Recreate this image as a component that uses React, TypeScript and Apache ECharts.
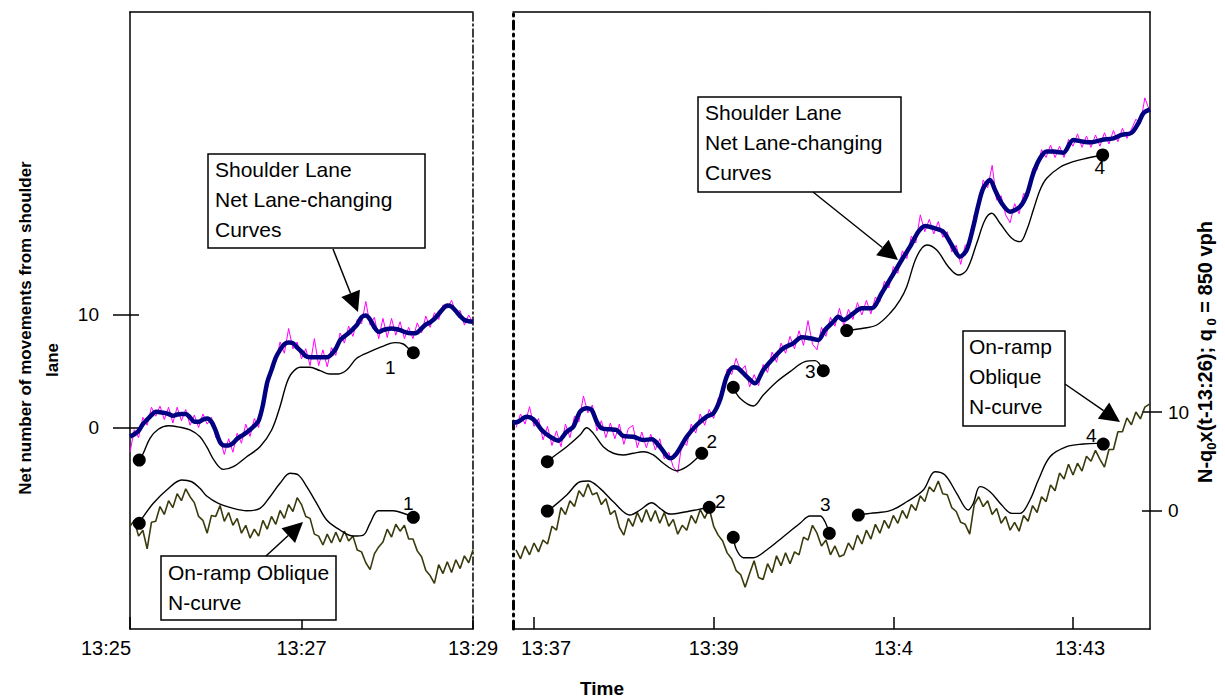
import React, { useEffect, useRef } from "react";
import * as echarts from "echarts";

const FONT = "'Liberation Sans', Arial, Helvetica, sans-serif";

// ---- axis ticks ----
const LEFT_TICKS = [25, 27, 29];
const LEFT_TICK_LABELS = ["13:25", "13:27", "13:29"];
const RIGHT_TICKS = [37, 39, 41, 43];
const RIGHT_TICK_LABELS = ["13:37", "13:39", "13:4", "13:43"];
const Y_TICKS = [0, 10];

// ---- axis ranges (minutes after 13:00 / counts) ----
const LEFT_RANGE = [25, 29];
const RIGHT_RANGE = [36.766, 43.857];
const SHOULDER_RANGE = [-17.91, 36.93];
const ONRAMP_RANGE = [-12.03, 50.61];

// ---- sampled series (one value every 0.05 min) ----
const SAMPLE_STEP = 0.05;
const LEFT_START = 25.0;
const RIGHT_START = 36.8;

const shoulderRawLeft = [
  -2.2, -0.2, -0.9, 0.9, 0.2, 1.8, 1.0, 1.9, 0.7, 1.8,
  0.4, 1.8, 0.6, 1.6, 0.2, 1.1, 0.0, 1.2, 0.3, 0.9,
  -0.9, -1.0, -2.4, -1.0, -2.2, -0.5, -1.4, 0.3, -0.8, 0.8,
  0.0, 2.6, 3.3, 5.6, 5.8, 7.6, 6.6, 8.8, 7.0, 7.6,
  6.1, 7.0, 5.5, 7.9, 5.5, 6.9, 5.4, 7.1, 6.4, 8.4,
  7.5, 9.0, 8.1, 9.6, 9.2, 11.2, 9.1, 9.8, 7.9, 9.7,
  8.0, 9.7, 8.2, 9.4, 7.9, 8.9, 7.9, 9.3, 8.4, 9.9,
  8.9, 10.2, 9.6, 10.9, 10.6, 11.3, 10.2, 10.4, 9.1, 10.0,
  9.3,
];

const shoulderSmoothLeft = [
  -0.8, -0.6, -0.3, 0.3, 0.7, 1.1, 1.4, 1.35, 1.3, 1.2,
  1.05, 1.15, 1.2, 1.2, 0.9, 0.5, 0.5, 0.7, 0.8, 0.5,
  -0.3, -1.3, -1.6, -1.6, -1.4, -1.0, -0.75, -0.5, -0.2, 0.15,
  0.6, 2.0, 4.0, 5.1, 6.2, 6.9, 7.4, 7.55, 7.5, 7.1,
  6.75, 6.35, 6.25, 6.24, 6.24, 6.24, 6.24, 6.5, 7.0, 7.75,
  8.1, 8.4, 8.75, 9.15, 9.8, 9.95, 9.6, 8.9, 8.5, 8.65,
  8.75, 8.8, 8.75, 8.65, 8.5, 8.4, 8.37, 8.45, 8.8, 9.15,
  9.35, 9.65, 10.1, 10.55, 10.85, 10.75, 10.35, 9.9, 9.55, 9.45,
  9.4,
];

const onrampLeft = [
  -1.6, -1.0, -2.6, -2.0, -3.9, -1.2, -1.1, 0.4, -0.4, 1.0,
  0.3, 1.7, 1.0, 2.2, 1.4, 0.8, -0.6, -1.0, -2.3, -0.5,
  -0.6, 0.5, -1.1, -0.2, -1.5, -0.8, -2.3, -1.5, -2.8, -1.9,
  -2.6, -1.0, -1.9, -0.6, -1.4, 0.0, -0.8, 0.6, -0.1, 1.3,
  0.6, -0.6, -0.8, -2.4, -2.6, -3.5, -2.4, -3.3, -2.2, -3.2,
  -2.1, -3.1, -2.6, -4.0, -4.2, -5.3, -6.0, -4.4, -3.7, -3.2,
  -1.9, -2.7, -1.4, -2.1, -1.5, -2.9, -2.9, -4.1, -4.7, -6.1,
  -6.6, -7.4, -5.5, -6.4, -5.2, -6.3, -5.0, -5.9, -4.6, -5.3,
  -4.0,
];

const shoulderRawRight = [
  0.0, 1.2, 0.3, 1.85, 0.1, 0.8, -1.1, 0.1, -1.6, -0.3,
  -1.7, 0.3, -0.9, 1.0, 0.5, 2.8, 1.3, 2.0, -0.3, 0.6,
  -0.9, 0.4, -1.0, 0.3, -1.5, -0.1, 0.2, -1.8, -0.4, -1.8,
  -0.6, -2.0, -1.0, -2.8, -2.2, -3.5, -4.0, -1.2, -1.6, 0.3,
  -0.5, 1.2, 0.2, 1.6, 0.8, 2.6, 3.0, 5.2, 4.7, 6.15,
  5.0, 5.5, 3.6, 4.7, 3.7, 5.6, 4.9, 6.7, 5.8, 7.5,
  6.6, 8.1, 7.0, 8.6, 7.3, 9.5, 7.4, 6.9, 8.9, 8.1,
  9.8, 9.0, 10.6, 9.0, 10.5, 9.6, 11.1, 10.0, 11.3, 10.1,
  11.6, 11.2, 13.0, 12.4, 14.3, 13.7, 15.7, 15.0, 17.0, 16.4,
  18.9, 17.4, 18.5, 17.2, 18.3, 16.9, 17.4, 15.6, 16.2, 14.5,
  16.2, 16.2, 18.9, 19.5, 22.0, 21.3, 23.3, 20.2, 20.6, 18.9,
  18.2, 19.9, 19.0, 20.8, 20.6, 23.0, 22.9, 24.7, 24.0, 25.1,
  24.0, 25.0, 24.0, 25.6, 25.0, 26.1, 24.9, 25.9, 24.9, 26.0,
  25.0, 26.2, 25.2, 26.4, 25.4, 26.6, 25.7, 26.5, 27.4, 27.0,
  29.3, 28.2,
];

const onrampRight = [
  -4.0, -4.9, -3.6, -4.5, -3.3, -4.2, -3.0, -3.4, -1.6, -2.0,
  0.3, -0.4, 1.0, 0.4, 2.0, 1.4, 2.7, 1.6, 1.8, 0.6,
  1.2, -0.4, 0.0, -1.7, -2.5, -0.8, -1.6, -0.2, -1.2, 0.1,
  -1.1, 0.0, -1.3, -0.2, -1.6, -0.9, -2.4, -1.5, -2.0, -0.5,
  -1.3, 0.1, -0.8, 0.2, -1.6, -2.5, -3.1, -4.3, -4.9, -6.1,
  -6.5, -7.8, -6.4, -5.1, -6.8, -7.0, -5.4, -6.3, -4.6, -5.6,
  -4.3, -5.4, -4.2, -4.5, -2.7, -3.0, -1.5, -2.3, -3.6, -3.0,
  -4.5, -3.6, -4.7, -4.5, -3.3, -4.0, -2.5, -3.4, -2.0, -2.9,
  -1.4, -2.3, -1.0, -1.8, -0.5, -1.3, 0.0, -0.8, 0.6, 0.0,
  1.5, 0.9, 2.4, 1.9, 3.0, 1.7, 1.6, 0.3, -0.1, -1.2,
  -1.4, -2.4, 0.6, 1.4, 0.4, 1.0, -0.4, 0.2, -1.3, -0.6,
  -2.0, -1.2, -2.1, -0.5, -1.1, 0.5, -0.2, 1.4, 0.9, 2.6,
  2.0, 3.8, 3.2, 4.7, 3.6, 4.8, 4.0, 5.5, 5.0, 6.1,
  5.2, 4.4, 6.2, 6.2, 8.0, 8.0, 9.4, 8.7, 10.0, 9.3,
  10.5, 10.8,
];

// ---- smoothed shoulder curve, right panel [minute, count] ----
const shoulderSmoothRight = [
  [36.766, 0.4], [36.825, 0.52], [36.918, 0.96], [36.992, 0.73], [37.085, -0.22], [37.178, -0.82],
  [37.27, -1.17], [37.364, -0.37], [37.437, 0.07], [37.512, 1.4], [37.586, 1.71], [37.642, 1.56],
  [37.698, 0.52], [37.753, -0.07], [37.846, -0.16], [37.92, -0.22], [37.994, -0.76], [38.105, -0.82],
  [38.217, -1.11], [38.31, -1.05], [38.402, -1.71], [38.514, -2.74], [38.588, -2.29], [38.7, -0.82],
  [38.811, 0.22], [38.922, 0.96], [38.996, 1.26], [39.07, 2.44], [39.145, 4.52], [39.218, 5.35],
  [39.274, 5.26], [39.368, 4.52], [39.46, 3.93], [39.552, 5.11], [39.664, 6.15], [39.775, 7.04],
  [39.886, 7.48], [39.98, 8.02], [40.072, 7.93], [40.165, 7.78], [40.239, 8.67], [40.332, 9.4],
  [40.387, 9.85], [40.443, 9.56], [40.554, 10.15], [40.648, 10.6], [40.759, 10.6], [40.87, 11.93],
  [40.982, 13.41], [41.093, 14.89], [41.186, 16.07], [41.278, 17.4], [41.353, 17.91], [41.464, 17.7],
  [41.556, 17.4], [41.65, 16.22], [41.742, 15.18], [41.817, 15.78], [41.89, 17.85], [41.946, 19.78],
  [42.001, 21.26], [42.076, 22.0], [42.132, 21.11], [42.206, 19.93], [42.299, 19.18], [42.41, 19.63],
  [42.485, 20.67], [42.558, 22.6], [42.633, 23.93], [42.707, 24.52], [42.781, 24.52], [42.892, 24.43],
  [43.003, 25.56], [43.115, 25.4], [43.208, 25.35], [43.319, 25.56], [43.449, 25.7], [43.542, 26.0],
  [43.653, 26.2], [43.727, 27.04], [43.783, 27.93], [43.857, 28.28],
];

// ---- shifted (black) curves [minute, count] ----
const shiftedShoulderLeft = [
  [25.108, -2.89], [25.155, -2.29], [25.233, -0.96], [25.33, -0.16], [25.447, 0.16], [25.583, 0.02],
  [25.7, -0.22], [25.816, -0.82], [25.894, -1.71], [25.991, -3.04], [26.088, -3.72], [26.205, -3.48],
  [26.361, -2.6], [26.516, -1.71], [26.652, -0.22], [26.749, 1.85], [26.827, 3.93], [26.886, 4.82],
  [26.983, 5.35], [27.099, 5.35], [27.216, 5.05], [27.332, 4.76], [27.429, 4.76], [27.527, 5.11],
  [27.644, 6.15], [27.799, 6.74], [27.954, 7.24], [28.09, 7.54], [28.187, 7.42], [28.246, 7.04],
  [28.304, 6.65],
];
const shiftedOnrampLeft = [
  [25.108, -1.3], [25.155, -0.63], [25.272, 0.73], [25.428, 2.08], [25.603, 3.1], [25.72, 2.92],
  [25.816, 2.25], [25.894, 1.47], [26.03, 0.73], [26.205, 0.22], [26.361, -0.02], [26.516, 0.22],
  [26.633, 1.4], [26.749, 2.76], [26.866, 3.78], [26.963, 3.6], [27.061, 2.42], [27.177, 0.73],
  [27.294, -0.96], [27.449, -1.98], [27.604, -2.59], [27.721, -2.49], [27.799, -1.3], [27.896, -0.02],
  [28.071, -0.02], [28.187, -0.28], [28.304, -0.69],
];
const shiftedShoulderRight1 = [
  [37.148, -3.04], [37.215, -2.6], [37.364, -1.71], [37.512, -0.67], [37.586, -0.02], [37.66, -0.52],
  [37.771, -1.71], [37.883, -2.29], [37.994, -2.44], [38.105, -2.29], [38.217, -2.15], [38.328, -2.44],
  [38.439, -3.18], [38.588, -3.84], [38.7, -3.48], [38.792, -2.89], [38.867, -2.29],
];
const shiftedShoulderRight2 = [
  [39.218, 3.57], [39.293, 2.6], [39.441, 1.91], [39.552, 2.89], [39.702, 4.07], [39.85, 4.96],
  [40.017, 5.85], [40.128, 5.94], [40.22, 5.05],
];
const shiftedShoulderRight3 = [
  [40.481, 8.62], [40.666, 8.82], [40.815, 9.11], [40.963, 10.15], [41.074, 11.33], [41.149, 12.52],
  [41.26, 15.18], [41.371, 16.22], [41.483, 15.78], [41.612, 14.29], [41.723, 13.56], [41.817, 14.0],
  [41.928, 16.37], [42.02, 18.44], [42.095, 19.04], [42.187, 18.15], [42.318, 16.82], [42.41, 16.52],
  [42.485, 17.56], [42.558, 19.33], [42.633, 21.11], [42.707, 22.15], [42.855, 23.13], [43.003, 23.63],
  [43.152, 23.93], [43.33, 24.22],
];
const shiftedOnrampRight1 = [
  [37.148, -0.05], [37.215, 0.39], [37.364, 1.57], [37.512, 2.92], [37.604, 3.0], [37.734, 2.25],
  [37.883, 0.89], [38.068, -0.46], [38.18, 0.05], [38.31, 0.79], [38.402, 0.22], [38.514, -0.36],
  [38.7, -0.12], [38.834, 0.12], [38.951, 0.32],
];
const shiftedOnrampRight2 = [
  [39.218, -2.72], [39.256, -4.01], [39.33, -4.79], [39.441, -4.79], [39.59, -4.01], [39.775, -2.66],
  [39.961, -1.3], [40.072, -0.56], [40.184, -0.56], [40.239, -1.14], [40.287, -2.32],
];
const shiftedOnrampRight3 = [
  [40.61, -0.46], [40.74, -0.29], [40.963, -0.02], [41.149, 0.89], [41.334, 2.08], [41.464, 3.94],
  [41.575, 3.6], [41.705, 1.75], [41.834, 0.05], [41.89, 0.73], [41.965, 2.42], [42.076, 1.91],
  [42.206, 0.56], [42.318, -0.29], [42.41, -0.29], [42.521, 1.07], [42.614, 3.1], [42.744, 5.46],
  [42.93, 6.48], [43.115, 6.75], [43.264, 6.82], [43.337, 6.75],
];

// ---- reference points (black dots) ----
const shoulderMarksLeft = [[25.108, -2.89], [28.304, 6.65]];
const shoulderMarkTextLeft = ["", "1"];
const onrampMarksLeft = [[25.108, -1.3], [28.304, -0.69]];
const onrampMarkTextLeft = ["", "1"];
const shoulderMarksRight = [[37.148, -3.04], [38.867, -2.29], [39.218, 3.57], [40.22, 5.05], [40.481, 8.62], [43.33, 24.22]];
const shoulderMarkTextRight = ["", "2", "", "3", "", "4"];
const onrampMarksRight = [[37.148, -0.05], [38.951, 0.32], [39.218, -2.72], [40.287, -2.32], [40.61, -0.46], [43.337, 6.75]];
const onrampMarkTextRight = ["", "2", "", "3", "", "4"];

// ---- styling (label offsets in px) ----
const OFF_SH_L = [null, [-23, 15]];
const OFF_ON_L = [null, [-5, -14]];
const OFF_SH_R = [null, [10, -12], null, [-13, 1], null, [-3, 13]];
const OFF_ON_R = [null, [11, -6], null, [-4, -29], null, [-12, -9]];

const C_MAGENTA = "#ff00ff";
const C_BLUE = "#000080";
const C_OLIVE = "#3a3a0c";
const C_BLACK = "#000000";

const sampled = (start: number, vals: number[]) =>
  vals.map((v, i) => [+(start + i * SAMPLE_STEP).toFixed(3), v]);

function lineSeries(data: any, xi: number, yi: number, color: string, width: number, extra: any = {}) {
  return {
    type: "line",
    xAxisIndex: xi,
    yAxisIndex: yi,
    data,
    symbol: "none",
    showSymbol: false,
    silent: true,
    lineStyle: { color, width, opacity: 1 },
    z: 3,
    ...extra,
  };
}

function markSeries(marks: number[][], texts: string[], offs: any[], xi: number, yi: number) {
  return {
    type: "scatter",
    xAxisIndex: xi,
    yAxisIndex: yi,
    symbol: "circle",
    symbolSize: 13,
    silent: true,
    itemStyle: { color: C_BLACK, opacity: 1 },
    z: 6,
    data: marks.map((m, i) => ({
      value: m,
      itemStyle: { color: C_BLACK, opacity: 1 },
      label: texts[i]
        ? {
            show: true,
            formatter: texts[i],
            position: "inside",
            offset: offs[i],
            fontSize: 19,
            fontFamily: FONT,
            color: C_BLACK,
            opacity: 1,
          }
        : { show: false },
    })),
  };
}

function arrow(x1: number, y1: number, x2: number, y2: number) {
  const dx = x2 - x1;
  const dy = y2 - y1;
  const L = Math.hypot(dx, dy);
  const ux = dx / L;
  const uy = dy / L;
  const hl = 20;
  const hw = 10;
  const bx = x2 - ux * hl;
  const by = y2 - uy * hl;
  return [
    { type: "line", z: 100, silent: true, shape: { x1, y1, x2: bx, y2: by }, style: { stroke: C_BLACK, lineWidth: 1.5 } },
    {
      type: "polygon",
      z: 100,
      silent: true,
      shape: { points: [[x2, y2], [bx - uy * hw, by + ux * hw], [bx + uy * hw, by - ux * hw]] },
      style: { fill: C_BLACK },
    },
  ];
}

function box(x: number, y: number, w: number, h: number, lines: string[], tx: number, ty: number) {
  const els: any[] = [
    { type: "rect", z: 100, silent: true, shape: { x, y, width: w, height: h }, style: { fill: "#fff", stroke: C_BLACK, lineWidth: 1.5 } },
  ];
  lines.forEach((t, i) => {
    els.push({
      type: "text",
      z: 101,
      silent: true,
      x: tx,
      y: ty + i * 30,
      style: { text: t, fontSize: 21, fontFamily: FONT, fill: C_BLACK, align: "left", verticalAlign: "middle" },
    });
  });
  return els;
}

const ANNOT_SHOULDER = ["Shoulder Lane", "Net Lane-changing", "Curves"];

function tickFormatter(ticks: number[], labels: string[], shifted: Record<number, string>) {
  return (v: number) => {
    const i = ticks.findIndex((t) => Math.abs(t - v) < 1e-6);
    if (i < 0) return "";
    const key = shifted[i] || "n";
    return `{${key}|${labels[i]}}`;
  };
}

const tickRich = {
  n: { fontSize: 20, fontFamily: FONT, color: C_BLACK },
  sl: { fontSize: 20, fontFamily: FONT, color: C_BLACK, padding: [0, 48, 0, 0] },
  sr: { fontSize: 20, fontFamily: FONT, color: C_BLACK, padding: [0, 0, 0, 24] },
  sr2: { fontSize: 20, fontFamily: FONT, color: C_BLACK, padding: [0, 0, 0, 14] },
};

const solidLine = { show: true, onZero: false, lineStyle: { color: C_BLACK, width: 1.5 } };
const noTicks = { show: false };
const noLabels = { show: false };
const noSplit = { show: false };

export default function App() {
  const ref = useRef<HTMLDivElement>(null);

  useEffect(() => {
    document.body.style.margin = "0";
    if (!ref.current) return;
    const chart = echarts.init(ref.current, undefined, { renderer: "svg" });

    const xAxis = [
      {
        gridIndex: 0, type: "value", min: LEFT_RANGE[0], max: LEFT_RANGE[1], position: "bottom",
        axisLine: solidLine,
        axisTick: { show: true, inside: true, length: 12, customValues: LEFT_TICKS, lineStyle: { color: C_BLACK, width: 1.5 } },
        axisLabel: { show: true, customValues: LEFT_TICKS, margin: 9, formatter: tickFormatter(LEFT_TICKS, LEFT_TICK_LABELS, { 0: "sl" }), rich: tickRich },
        splitLine: noSplit,
      },
      {
        gridIndex: 0, type: "value", min: LEFT_RANGE[0], max: LEFT_RANGE[1], position: "top",
        axisLine: solidLine, axisTick: noTicks, axisLabel: noLabels, splitLine: noSplit,
      },
      {
        gridIndex: 1, type: "value", min: RIGHT_RANGE[0], max: RIGHT_RANGE[1], position: "bottom",
        axisLine: solidLine,
        axisTick: { show: true, inside: true, length: 12, customValues: RIGHT_TICKS, lineStyle: { color: C_BLACK, width: 1.5 } },
        axisLabel: { show: true, customValues: RIGHT_TICKS, margin: 9, formatter: tickFormatter(RIGHT_TICKS, RIGHT_TICK_LABELS, { 0: "sr", 3: "sr2" }), rich: tickRich },
        splitLine: noSplit,
      },
      {
        gridIndex: 1, type: "value", min: RIGHT_RANGE[0], max: RIGHT_RANGE[1], position: "top",
        axisLine: solidLine, axisTick: noTicks, axisLabel: noLabels, splitLine: noSplit,
      },
    ];

    const yLabel = (margin: number) => ({
      show: true, customValues: Y_TICKS, margin, fontSize: 19, fontFamily: FONT, color: C_BLACK,
      formatter: (v: number) => String(Math.round(v)),
    });

    const yAxis = [
      {
        gridIndex: 0, type: "value", min: SHOULDER_RANGE[0], max: SHOULDER_RANGE[1], position: "left",
        axisLine: solidLine,
        axisTick: { show: true, inside: false, length: 17, customValues: Y_TICKS, lineStyle: { color: C_BLACK, width: 1.5 } },
        axisLabel: yLabel(31), splitLine: noSplit,
      },
      {
        gridIndex: 0, type: "value", min: SHOULDER_RANGE[0], max: SHOULDER_RANGE[1], position: "left",
        axisLine: { show: false, onZero: false },
        axisTick: { show: true, inside: true, length: 9, customValues: Y_TICKS, lineStyle: { color: C_BLACK, width: 1.5 } },
        axisLabel: noLabels, splitLine: noSplit,
      },
      {
        gridIndex: 0, type: "value", min: ONRAMP_RANGE[0], max: ONRAMP_RANGE[1], position: "right",
        axisLine: { show: true, onZero: false, lineStyle: { color: C_BLACK, width: 1.5, type: [8, 3, 2, 3] } },
        axisTick: noTicks, axisLabel: noLabels, splitLine: noSplit,
      },
      {
        gridIndex: 1, type: "value", min: SHOULDER_RANGE[0], max: SHOULDER_RANGE[1], position: "left",
        axisLine: { show: true, onZero: false, lineStyle: { color: C_BLACK, width: 3, type: [8, 5, 2, 5] } },
        axisTick: noTicks, axisLabel: noLabels, splitLine: noSplit,
      },
      {
        gridIndex: 1, type: "value", min: ONRAMP_RANGE[0], max: ONRAMP_RANGE[1], position: "right",
        axisLine: solidLine,
        axisTick: { show: true, inside: false, length: 12, customValues: Y_TICKS, lineStyle: { color: C_BLACK, width: 1.5 } },
        axisLabel: yLabel(18), splitLine: noSplit,
      },
      {
        gridIndex: 1, type: "value", min: ONRAMP_RANGE[0], max: ONRAMP_RANGE[1], position: "right",
        axisLine: { show: false, onZero: false },
        axisTick: { show: true, inside: true, length: 8, customValues: Y_TICKS, lineStyle: { color: C_BLACK, width: 1.5 } },
        axisLabel: noLabels, splitLine: noSplit,
      },
    ];

    const smooth = { smooth: 0.35 };
    const series: any[] = [
      // left panel
      lineSeries(sampled(LEFT_START, shoulderRawLeft), 0, 0, C_MAGENTA, 1, { z: 2 }),
      lineSeries(sampled(LEFT_START, shoulderSmoothLeft), 0, 0, C_BLUE, 4.5, { smooth: 0.3, z: 4 }),
      lineSeries(shiftedShoulderLeft, 0, 0, C_BLACK, 1.4, smooth),
      lineSeries(sampled(LEFT_START, onrampLeft), 0, 2, C_OLIVE, 1.6),
      lineSeries(shiftedOnrampLeft, 0, 2, C_BLACK, 1.4, smooth),
      markSeries(shoulderMarksLeft, shoulderMarkTextLeft, OFF_SH_L, 0, 0),
      markSeries(onrampMarksLeft, onrampMarkTextLeft, OFF_ON_L, 0, 2),
      // right panel
      lineSeries(sampled(RIGHT_START, shoulderRawRight), 2, 3, C_MAGENTA, 1, { z: 2 }),
      lineSeries(shoulderSmoothRight, 2, 3, C_BLUE, 4.5, { smooth: 0.3, z: 4 }),
      lineSeries(shiftedShoulderRight1, 2, 3, C_BLACK, 1.4, smooth),
      lineSeries(shiftedShoulderRight2, 2, 3, C_BLACK, 1.4, smooth),
      lineSeries(shiftedShoulderRight3, 2, 3, C_BLACK, 1.4, smooth),
      lineSeries(sampled(RIGHT_START, onrampRight), 2, 4, C_OLIVE, 1.6),
      lineSeries(shiftedOnrampRight1, 2, 4, C_BLACK, 1.4, smooth),
      lineSeries(shiftedOnrampRight2, 2, 4, C_BLACK, 1.4, smooth),
      lineSeries(shiftedOnrampRight3, 2, 4, C_BLACK, 1.4, smooth),
      markSeries(shoulderMarksRight, shoulderMarkTextRight, OFF_SH_R, 2, 3),
      markSeries(onrampMarksRight, onrampMarkTextRight, OFF_ON_R, 2, 4),
    ];

    const graphic: any[] = [
      ...box(208, 154, 217, 94, ANNOT_SHOULDER, 215, 169),
      ...box(698, 97, 203, 95, ANNOT_SHOULDER, 705, 112),
      ...box(161, 556, 175, 64, ["On-ramp Oblique", "N-curve"], 168, 572),
      ...box(963, 331, 102, 95, ["On-ramp", "Oblique", "N-curve"], 969, 346),
      ...arrow(333, 249, 358, 312),
      ...arrow(813, 192, 898, 260),
      ...arrow(266, 556, 303, 522),
      ...arrow(1065, 384, 1120, 422),
      {
        type: "text", z: 101, silent: true, x: 602, y: 688,
        style: { text: "Time", fontSize: 19, fontWeight: "bold", fontFamily: FONT, fill: C_BLACK, align: "center", verticalAlign: "middle" },
      },
      {
        type: "text", z: 101, silent: true, x: 25, y: 328, rotation: Math.PI / 2,
        style: { text: "Net number of movements from shoulder", fontSize: 17, fontWeight: "bold", fontFamily: FONT, fill: C_BLACK, align: "center", verticalAlign: "middle" },
      },
      {
        type: "text", z: 101, silent: true, x: 52, y: 360, rotation: Math.PI / 2,
        style: { text: "lane", fontSize: 17, fontWeight: "bold", fontFamily: FONT, fill: C_BLACK, align: "center", verticalAlign: "middle" },
      },
      {
        type: "text", z: 101, silent: true, x: 1205, y: 352, rotation: Math.PI / 2,
        style: {
          text: "{n|N-q}{s|0}{n|x(t-13:26); q}{s| 0}{n| = 850 vph}",
          align: "center",
          verticalAlign: "middle",
          fill: C_BLACK,
          rich: {
            n: { fontSize: 20, fontWeight: "bold", fontFamily: FONT, fill: C_BLACK, lineHeight: 25, verticalAlign: "middle" },
            s: { fontSize: 13, fontWeight: "bold", fontFamily: FONT, fill: C_BLACK, lineHeight: 13, verticalAlign: "bottom" },
          },
        },
      },
    ];

    chart.setOption({
      animation: false,
      backgroundColor: "#ffffff",
      textStyle: { fontFamily: FONT },
      grid: [
        { left: 130, top: 12, width: 343, height: 617 },
        { left: 513, top: 12, width: 637, height: 617 },
      ],
      xAxis,
      yAxis,
      series,
      graphic,
    });

    return () => chart.dispose();
  }, []);

  return <div ref={ref} style={{ width: 1225, height: 698 }} />;
}
